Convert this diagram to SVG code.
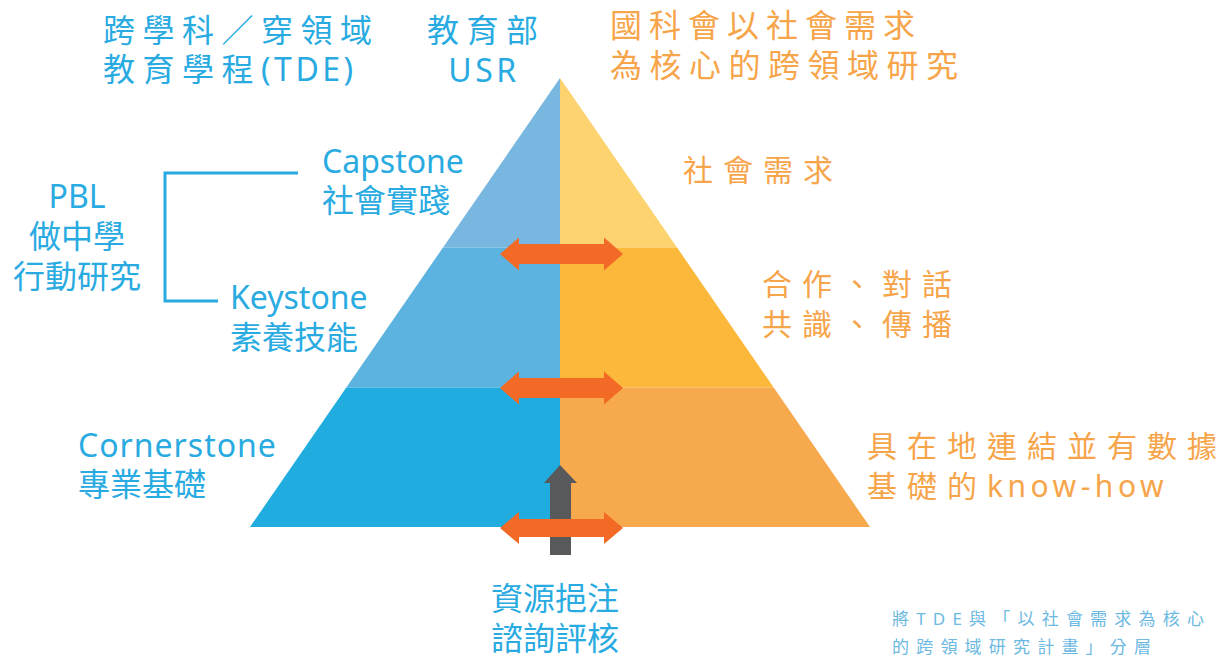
<svg xmlns="http://www.w3.org/2000/svg" width="1231" height="659" viewBox="0 0 1231 659">
<style>
text{font-family:"Noto Sans","Noto Sans CJK TC",sans-serif;}
.b{fill:#29abe2;font-size:32px;}
.o{fill:#f7a54a;font-size:32px;}
.s7{letter-spacing:7.5px;}
.s10{font-size:30px;letter-spacing:10px;}
.lat{letter-spacing:3.5px;}
.note{fill:#6cb9e2;font-size:17px;letter-spacing:7.2px;}
.oa{fill:#f26a25;}
</style>
<rect width="1231" height="659" fill="#ffffff"/>
<g id="pyramid">
<polygon points="560,78 560,247.5 443,247.5" fill="#78b7e0"/>
<polygon points="560,78 560,247.5 677,247.5" fill="#fdd370"/>
<polygon points="443,247.5 560,247.5 560,387.5 346.3,387.5" fill="#5db3df"/>
<polygon points="560,247.5 677,247.5 773.7,387.5 560,387.5" fill="#fbb83b"/>
<polygon points="346.3,387.5 560,387.5 560,527 250,527" fill="#21ace0"/>
<polygon points="560,387.5 773.7,387.5 870,527 560,527" fill="#f7a94e"/>
</g>
<g id="connectors">
<polygon points="560,465 577,483 571,483 571,555 550,555 550,483 544,483" fill="#58595b"/>
<polygon class="oa" points="500,254 519,237.5 519,244 604,244 604,237.5 623,254 604,270.5 604,264 519,264 519,270.5"/>
<polygon class="oa" points="500,388 519,371.5 519,378 604,378 604,371.5 623,388 604,404.5 604,398 519,398 519,404.5"/>
<polygon class="oa" points="500,528 519,512 519,519 604,519 604,512 623,528 604,544 604,537 519,537 519,544"/>
<polyline points="298,173 165,173 165,301 218,301" fill="none" stroke="#29abe2" stroke-width="3"/>
</g>
<g id="tde">
<text class="b s7" x="103" y="42">跨學科／穿領域</text>
<text class="b s7" x="103" y="81">教育學程<tspan class="lat">(TDE)</tspan></text>
</g>
<g id="usr">
<text class="b s7" x="427" y="42">教育部</text>
<text class="b lat" x="484" y="82" text-anchor="middle">USR</text>
</g>
<g id="nstc">
<text class="o" x="610" y="37" style="letter-spacing:7px">國科會以社會需求</text>
<text class="o" x="610" y="77" style="letter-spacing:7.5px">為核心的跨領域研究</text>
</g>
<g id="pbl">
<text class="b" x="77" y="208" text-anchor="middle">PBL</text>
<text class="b" x="77" y="248" text-anchor="middle">做中學</text>
<text class="b" x="77" y="288" text-anchor="middle">行動研究</text>
</g>
<g id="capstone">
<text class="b" x="322" y="173">Capstone</text>
<text class="b" x="322" y="212">社會實踐</text>
</g>
<g id="keystone">
<text class="b" x="230" y="309">Keystone</text>
<text class="b" x="230" y="349">素養技能</text>
</g>
<g id="cornerstone">
<text class="b" x="78" y="457" style="letter-spacing:1px">Cornerstone</text>
<text class="b" x="78" y="496">專業基礎</text>
</g>
<g id="social">
<text class="o s10" x="683" y="181">社會需求</text>
</g>
<g id="dialogue">
<text class="o s10" x="762" y="295">合作、對話</text>
<text class="o s10" x="762" y="335">共識、傳播</text>
</g>
<g id="knowhow">
<text class="o s10" x="867" y="457">具在地連結並有數據</text>
<text class="o s10" x="867" y="497">基礎的<tspan style="letter-spacing:4.5px">know-how</tspan></text>
</g>
<g id="resources">
<text class="b" x="491" y="610">資源挹注</text>
<text class="b" x="491" y="650">諮詢評核</text>
</g>
<g id="note">
<text class="note" x="892" y="625">將TDE與「以社會需求為核心</text>
<text class="note" x="892" y="653">的跨領域研究計畫」分層</text>
</g>
</svg>
